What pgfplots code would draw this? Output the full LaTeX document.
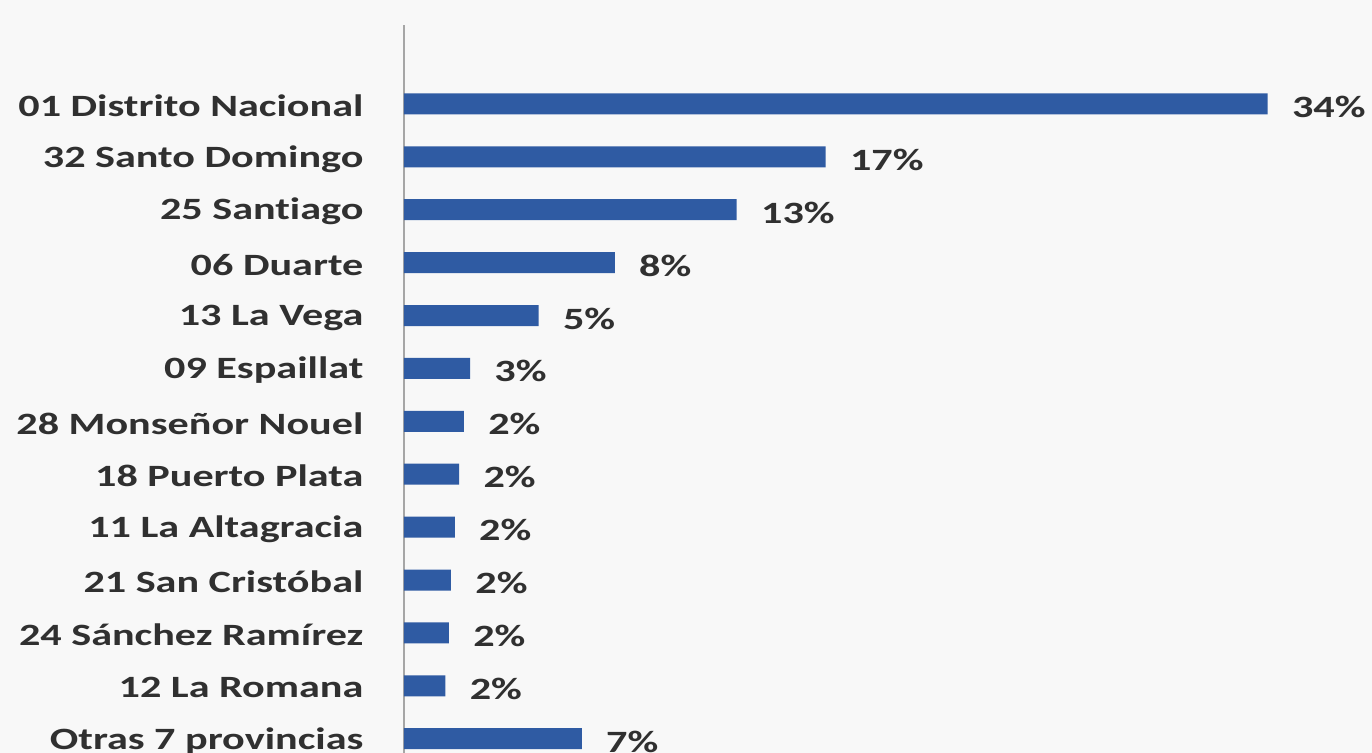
\documentclass[border=0pt]{standalone}
\usepackage{fontspec}
\setmainfont{Carlito}[FakeStretch=1.36, Ligatures=NoCommon]
\usepackage{pgfplots}
\pgfplotsset{compat=1.18}
\definecolor{barblue}{RGB}{47,91,163}
\definecolor{txt}{RGB}{48,48,48}
\definecolor{bg}{RGB}{248,248,248}
\newcommand{\lbl}{\fontsize{15.5}{18}\selectfont\bfseries}
\begin{document}
\begin{tikzpicture}
\useasboundingbox (0,0) rectangle (686pt,376.5pt);
\fill[bg] (0,0) rectangle (686pt,376.5pt);
\clip (0,0) rectangle (686pt,376.5pt);
\begin{axis}[
  anchor=south west, at={(202pt,0pt)},
  scale only axis,
  x=12.7pt, y=26.45pt,
  xmin=0, xmax=37,
  ymin=-1.49, ymax=12.27,
  y dir=reverse,
  xbar, bar width=10.5pt,
  axis x line=none,
  axis y line=left,
  axis line style={-, draw=gray!70, line width=0.8pt},
  ytick={0,...,12},
  yticklabels={01 Distrito Nacional, 32 Santo Domingo, 25 Santiago, 06 Duarte,
    13 La Vega, 09 Espaillat, 28 Monseñor Nouel, 18 Puerto Plata,
    11 La Altagracia, 21 San Cristóbal, 24 Sánchez Ramírez, 12 La Romana,
    Otras 7 provincias},
  ytick style={draw=none},
  yticklabel style={font=\lbl, text=txt, inner sep=0pt, xshift=-18pt, yshift=-1pt},
  nodes near coords,
  point meta=explicit symbolic,
  every node near coord/.append style={font=\lbl, text=txt, anchor=west, inner sep=0pt, xshift=12pt, yshift=-1.5pt},
  clip=false,
]
\addplot[draw=none, fill=barblue] coordinates {
  (34,0) [34\%]
  (16.6,1) [17\%]
  (13.1,2) [13\%]
  (8.3,3) [8\%]
  (5.3,4) [5\%]
  (2.6,5) [3\%]
  (2.36,6) [2\%]
  (2.17,7) [2\%]
  (2.0,8) [2\%]
  (1.85,9) [2\%]
  (1.77,10) [2\%]
  (1.63,11) [2\%]
  (7.0,12) [7\%]
};
\end{axis}
\end{tikzpicture}
\end{document}
